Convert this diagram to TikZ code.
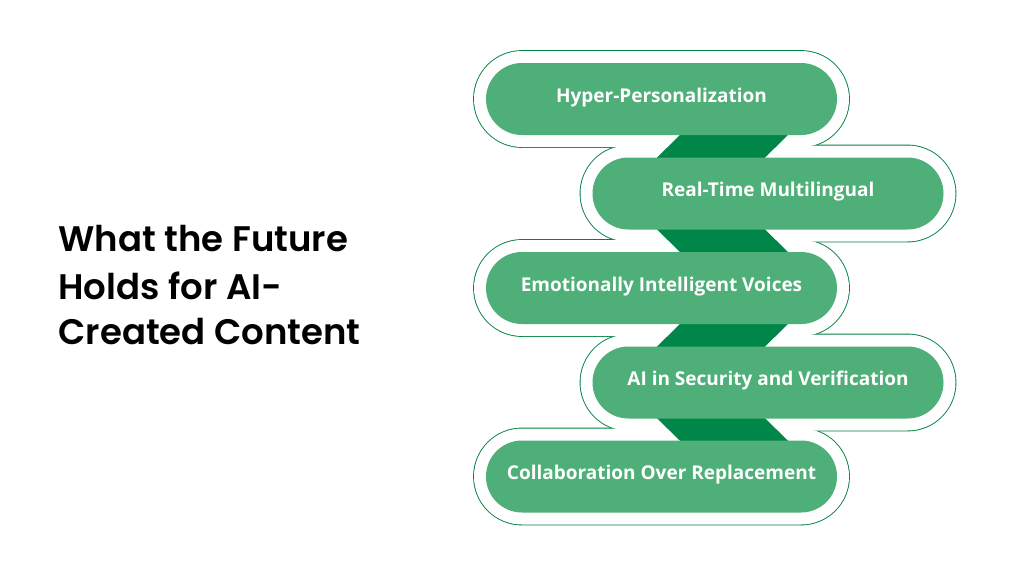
\documentclass[tikz,border=0pt]{standalone}
\usepackage{fontspec}
\setmainfont{Open Sans}
\newfontfamily\titlefont{Poppins}[UprightFont=* SemiBold]
\newfontfamily\labfont{Open Sans}
\usetikzlibrary{shapes.misc,calc}
\definecolor{pillgreen}{RGB}{79,175,120}
\definecolor{darkgreen}{RGB}{0,134,72}
\definecolor{linegreen}{RGB}{0,128,66}
\tikzset{
  pill/.style={rounded rectangle, fill=pillgreen, draw=none, minimum width=351pt, minimum height=72pt, inner sep=0pt},
  outerline/.style={rounded rectangle, draw=linegreen, line width=1.8pt, fill=white, minimum width=375pt, minimum height=96pt, inner sep=0pt},
  outerfill/.style={rounded rectangle, fill=white, draw=none, minimum width=375pt, minimum height=96pt, inner sep=0pt},
  band/.style={fill=darkgreen, draw=none},
  lab/.style={text=white, font=\labfont\bfseries\fontsize{19}{22}\selectfont, yshift=1.5pt},
  ttl/.style={anchor=west, font=\titlefont\fontsize{35.5}{41}\selectfont, text=black}
}
\begin{document}
\begin{tikzpicture}[x=1pt,y=-1pt]
\useasboundingbox[fill=white] (0,0) rectangle (1024,576);
% centers
\coordinate (c1) at (661.5,99);
\coordinate (c2) at (768,193.5);
\coordinate (c3) at (661.5,288);
\coordinate (c4) at (768,382.5);
\coordinate (c5) at (661.5,476.5);
% outer outlines (union)
\foreach \i in {1,...,5} {\node[outerline] (o\i) at (c\i) {};}
\foreach \i in {1,...,5} {\node[outerfill] (f\i) at (c\i) {};}
% bands
\fill[band] ($(c1)+(28.5,26)$) -- ($(c1)+(136.5,26)$) -- ($(c2)+(-13,-26)$) -- ($(c2)+(-121,-26)$) -- cycle;
\fill[band] ($(c2)+(-121,26)$) -- ($(c2)+(-13,26)$) -- ($(c3)+(136.5,-26)$) -- ($(c3)+(28.5,-26)$) -- cycle;
\fill[band] ($(c3)+(28.5,26)$) -- ($(c3)+(136.5,26)$) -- ($(c4)+(-13,-26)$) -- ($(c4)+(-121,-26)$) -- cycle;
\fill[band] ($(c4)+(-121,26)$) -- ($(c4)+(-13,26)$) -- ($(c5)+(136.5,-26)$) -- ($(c5)+(28.5,-26)$) -- cycle;
% pills
\node[pill] (p1) at (c1) {};
\node[pill] (p2) at (c2) {};
\node[pill] (p3) at (c3) {};
\node[pill] (p4) at (c4) {};
\node[pill] (p5) at (c5) {};
% labels
\node[lab] (t1) at (p1) {Hyper-Personalization};
\node[lab] (t2) at (p2) {Real-Time Multilingual};
\node[lab] (t3) at (p3) {Emotionally Intelligent Voices};
\node[lab] (t4) at (p4) {AI in Security and Verification};
\node[lab] (t5) at (p5) {Collaboration Over Replacement};
% title
\node[ttl] (h1) at (55,239) {What the Future};
\node[ttl] (h2) at (55,286) {Holds for AI-};
\node[ttl] (h3) at (55,332) {Created Content};
\end{tikzpicture}
\end{document}
